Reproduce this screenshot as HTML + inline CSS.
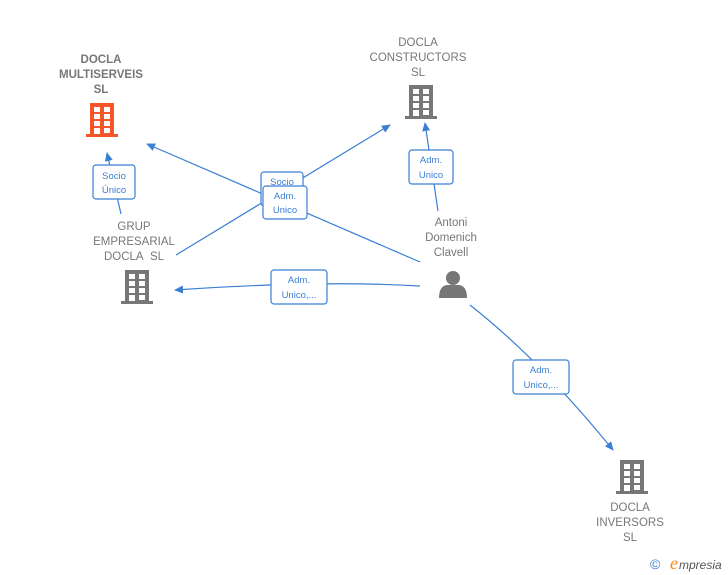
<!DOCTYPE html>
<html><head><style>
body{margin:0;background:#fff;width:728px;height:575px;overflow:hidden}
svg{display:block}
.t{font-family:"Liberation Sans",sans-serif;font-size:11.5px;fill:#777;text-anchor:middle}
.b{font-weight:bold}
.l{font-family:"Liberation Sans",sans-serif;font-size:9.5px;fill:#3a7fd5;text-anchor:middle}
.e{stroke:#3a7fd5;stroke-width:1.2;fill:none}
.bx{fill:#fff;stroke:#3a7fd5;stroke-width:1.2}
</style></head><body>
<svg width="728" height="575" viewBox="0 0 728 575">
<defs>
<marker id="a" markerWidth="10" markerHeight="10" refX="8" refY="5" orient="auto" markerUnits="userSpaceOnUse">
<path d="M0,1 L9,5 L0,9 Z" fill="#3a7fd5"/></marker>
<g id="bld">
<rect x="-12" y="0" width="24" height="31"/>
<rect x="-16" y="31" width="32" height="3"/>
<g fill="#fff">
<rect x="-8" y="4" width="6" height="5"/><rect x="2" y="4" width="6" height="5"/>
<rect x="-8" y="11" width="6" height="5"/><rect x="2" y="11" width="6" height="5"/>
<rect x="-8" y="18" width="6" height="5"/><rect x="2" y="18" width="6" height="5"/>
<rect x="-8" y="25" width="6" height="6"/><rect x="2" y="25" width="6" height="5"/>
</g></g>
</defs>
<path class="e" d="M420,262 L147,144" marker-end="url(#a)"/>
<path class="e" d="M176,255 L390,125" marker-end="url(#a)"/>
<path class="e" d="M121,214 L107,153" marker-end="url(#a)"/>
<path class="e" d="M438,211 L425,123" marker-end="url(#a)"/>
<path class="e" d="M420,286 Q320,280 175,290" marker-end="url(#a)"/>
<path class="e" d="M470,305 Q540,360 613,450" marker-end="url(#a)"/>

<rect class="bx" x="93" y="165" width="42" height="34" rx="3"/>
<text class="l" x="114" y="179">Socio</text><text class="l" x="114" y="193">Único</text>
<rect class="bx" x="261" y="172" width="42" height="34" rx="3"/>
<text class="l" x="282" y="185">Socio</text>
<rect class="bx" x="263" y="186" width="44" height="33" rx="3"/>
<text class="l" x="285" y="199">Adm.</text><text class="l" x="285" y="213">Unico</text>
<rect class="bx" x="409" y="150" width="44" height="34" rx="3"/>
<text class="l" x="431" y="163">Adm.</text><text class="l" x="431" y="178">Unico</text>
<rect class="bx" x="271" y="270" width="56" height="34" rx="3"/>
<text class="l" x="299" y="283">Adm.</text><text class="l" x="299" y="298">Unico,...</text>
<rect class="bx" x="513" y="360" width="56" height="34" rx="3"/>
<text class="l" x="541" y="373">Adm.</text><text class="l" x="541" y="388">Unico,...</text>

<use href="#bld" x="102" y="103" fill="#f4562a"/>
<use href="#bld" x="421" y="85" fill="#777"/>
<use href="#bld" x="137" y="270" fill="#777"/>
<use href="#bld" x="632" y="460" fill="#777"/>

<text class="t b" x="101" y="63">DOCLA</text>
<text class="t b" x="101" y="78">MULTISERVEIS</text>
<text class="t b" x="101" y="93">SL</text>
<text class="t" x="418" y="46">DOCLA</text>
<text class="t" x="418" y="61">CONSTRUCTORS</text>
<text class="t" x="418" y="76">SL</text>
<text class="t" x="134" y="230">GRUP</text>
<text class="t" x="134" y="245">EMPRESARIAL</text>
<text class="t" x="134" y="260">DOCLA&#160; SL</text>
<text class="t" x="451" y="226">Antoni</text>
<text class="t" x="451" y="241">Domenich</text>
<text class="t" x="451" y="256">Clavell</text>
<text class="t" x="630" y="511">DOCLA</text>
<text class="t" x="630" y="526">INVERSORS</text>
<text class="t" x="630" y="541">SL</text>

<g fill="#777">
<circle cx="453" cy="278" r="7"/>
<path d="M439,298 Q439,286 447,285 L459,285 Q467,286 467,298 Z"/>
</g>
<text x="650" y="569" font-family="Liberation Sans,sans-serif" font-size="14" fill="#3a7fd5">©</text>
<text x="670" y="569" font-family="Liberation Serif,serif" font-style="italic" font-size="18" fill="#f08a1c">e</text>
<text x="679" y="569" font-family="Liberation Sans,sans-serif" font-style="italic" font-size="12" fill="#555">mpresia</text>
</svg>
</body></html>
